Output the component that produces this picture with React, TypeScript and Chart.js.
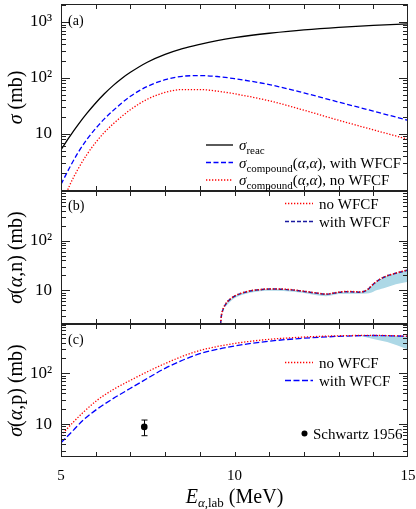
import React, { useEffect, useRef } from 'react';
import { Chart, registerables } from 'chart.js';
Chart.register(...registerables);

const W = 416;
const H = 509;
const LEFT = 61;
const RIGHT = 408;
const SERIF = '"Liberation Serif", "Times New Roman", serif';

// ---------- panel (a): reaction & compound elastic ----------
const energyReac = [5.0, 5.25, 5.5, 5.75, 6.0, 6.25, 6.5, 6.75, 7.0, 7.5, 8.0, 8.5, 9.0, 9.5, 10.0, 10.5, 11.0, 12.0, 13.0, 14.0, 15.0];
const sigmaReac = [5.2, 8.95, 14.8, 23.4, 35.6, 52, 72.8, 97.7, 126, 193, 264, 335, 400, 465, 525, 580, 630, 725, 805, 870, 925];
const energyComp = [5.0, 5.25, 5.5, 5.75, 6.0, 6.25, 6.5, 7.0, 7.5, 8.0, 8.5, 9.0, 9.5, 10.0, 11.0, 12.0, 13.0, 14.0, 15.0];
const compWithWfcf = [1.25, 2.5, 4.7, 8.0, 12.5, 18.5, 26, 47, 71, 93, 107, 110, 106, 97, 76, 54, 37, 25.5, 17.5];
const compNoWfcf = [0.5, 1.2, 2.4, 4.3, 7.0, 10.6, 15, 27, 42, 55, 62, 62, 58, 52, 39, 26.5, 17.5, 11.8, 8.0];

// ---------- panel (b): (alpha,n) ----------
const energyN = [9.6, 9.62, 9.66, 9.72, 9.8, 9.9, 10.0, 10.2, 10.45, 10.75, 11.0, 11.4, 11.7, 12.0, 12.35, 12.64, 12.8, 13.0, 13.3, 13.6, 13.75, 13.85, 13.95, 14.05, 14.3, 14.65, 15.0];
const sigmaNWith = [2.1, 3.0, 3.9, 4.9, 5.9, 6.8, 7.6, 8.7, 9.7, 10.3, 10.6, 10.5, 10.1, 9.5, 8.8, 8.3, 8.6, 9.1, 9.4, 9.2, 9.6, 10.5, 12.3, 14.2, 18.3, 22, 25.6];
const sigmaNNo = [2.1, 3.0, 4.0, 5.0, 6.0, 6.9, 7.7, 8.8, 9.8, 10.4, 10.7, 10.6, 10.2, 9.6, 8.9, 8.4, 8.7, 9.2, 9.5, 9.3, 9.7, 10.6, 12.4, 14.3, 18.4, 22.2, 25.8];
const bandEnergyN = [9.75, 10.0, 10.45, 11.0, 11.4, 12.0, 12.64, 13.0, 13.6, 13.8, 13.95, 14.05, 14.3, 14.65, 15.0];
const bandNLow = [4.8, 6.9, 8.9, 9.8, 9.7, 8.8, 7.6, 8.4, 8.5, 8.6, 9.0, 9.8, 11.0, 13.2, 14.9];
const bandNHigh = [5.4, 7.6, 9.7, 10.6, 10.5, 9.5, 8.3, 9.1, 9.2, 10.0, 12.3, 14.2, 18.3, 22, 25.6];

// ---------- panel (c): (alpha,p) ----------
const energyP = [5.0, 5.36, 5.64, 6.03, 6.51, 6.99, 7.5, 8.0, 8.5, 9.0, 9.5, 10.0, 10.5, 11.0, 11.5, 12.0, 12.5, 13.0, 13.5, 14.0, 14.5, 15.0];
const sigmaPWith = [4.3, 7.6, 12, 19.5, 32, 50, 80, 125, 180, 242, 295, 343, 388, 427, 460, 488, 512, 532, 546, 552, 545, 530];
const sigmaPNo = [6.0, 11, 17, 29, 48, 72, 108, 155, 215, 280, 335, 385, 428, 465, 492, 515, 532, 545, 553, 556, 549, 534];
const bandEnergyP = [13.4, 13.7, 14.0, 14.4, 14.7, 15.0];
const bandPLow = [548, 528, 470, 410, 350, 290];
const bandPHigh = [548, 551, 552, 547, 540, 530];
const schwartzE = [7.4];
const schwartzSigma = [8.8];
const schwartzLow = [5.9];
const schwartzHigh = [12.0];

// ---------- axes ----------
const xMin = 5;
const xMax = 15;
const xTickLabels = [5, 10, 15];
const xTickMarks = [6, 7, 8, 9, 10, 11, 12, 13, 14];
const yLabelValuesA = [10, 100, 1000];
const yLabelValuesBC = [10, 100];
const yMajorValues = [10, 100, 1000];
const yMajorLabels = ['10', '10\u00B2', '10\u00B3'];

type Part = { t: string; s: number; it?: boolean; dy?: number };
const rm = (t: string, s = 15, dy = 0): Part => ({ t, s, dy });
const itl = (t: string, s = 15, dy = 0): Part => ({ t, s, dy, it: true });
const fontOf = (p: Part) => `${p.it ? 'italic ' : ''}${p.s}px ${SERIF}`;

function drawParts(ctx: CanvasRenderingContext2D, parts: Part[], x: number, y: number, align: 'left' | 'center' | 'right') {
  let w = 0;
  for (const p of parts) {
    ctx.font = fontOf(p);
    w += ctx.measureText(p.t).width;
  }
  let cx = align === 'left' ? x : align === 'center' ? x - w / 2 : x - w;
  ctx.textAlign = 'left';
  ctx.textBaseline = 'alphabetic';
  for (const p of parts) {
    ctx.font = fontOf(p);
    ctx.fillText(p.t, cx, y + (p.dy || 0));
    cx += ctx.measureText(p.t).width;
  }
}

interface LegendItem { y: number; color: string; dash: number[]; width: number; parts: Part[] }
interface PanelSpec {
  top: number; bottom: number; yMin: number; yMax: number; showX: boolean; yLabels: number[];
  label: string; labelY: number; yTitle: Part[];
  legendX0: number; legendX1: number; legendTextX: number; legend: LegendItem[];
  datasets: any[];
  errorBars?: { e: number[]; lo: number[]; hi: number[] };
}

const pts = (xs: number[], ys: number[]) => xs.map((x, i) => ({ x, y: ys[i] }));

const lineDs = (xs: number[], ys: number[], color: string, dash: number[], width: number, order: number) => ({
  data: pts(xs, ys), borderColor: color, borderDash: dash, borderWidth: width, pointRadius: 0,
  fill: false, cubicInterpolationMode: 'monotone', order, borderCapStyle: 'butt',
});

const bandDs = (xs: number[], lo: number[], hi: number[]) => [
  { data: pts(xs, lo), borderWidth: 0, borderColor: 'rgba(0,0,0,0)', pointRadius: 0, fill: false, cubicInterpolationMode: 'monotone', order: 10 },
  { data: pts(xs, hi), borderWidth: 0, borderColor: 'rgba(0,0,0,0)', backgroundColor: '#add8e6', pointRadius: 0, fill: '-1', cubicInterpolationMode: 'monotone', order: 9 },
];

const RED = '#ff0000';
const BLUE = '#0000ff';
const NAVY = '#1a1aa0';
const DOT = [1.3, 1.7];

const panels: PanelSpec[] = [
  {
    top: 4, bottom: 191, yMin: 0.95, yMax: 2100, showX: false, yLabels: yLabelValuesA,
    label: '(a)', labelY: 20,
    yTitle: [itl('\u03C3', 20), rm(' (mb)', 20)],
    legendX0: 206, legendX1: 233, legendTextX: 239,
    legend: [
      { y: 145, color: '#000', dash: [], width: 1.3, parts: [itl('\u03C3'), rm('reac', 11, 4)] },
      { y: 162.5, color: BLUE, dash: [5, 2.5], width: 1.3, parts: [itl('\u03C3'), rm('compound', 11, 4), rm('('), itl('\u03B1'), rm(','), itl('\u03B1'), rm('), with WFCF')] },
      { y: 180, color: RED, dash: DOT, width: 1.3, parts: [itl('\u03C3'), rm('compound', 11, 4), rm('('), itl('\u03B1'), rm(','), itl('\u03B1'), rm('), no WFCF')] },
    ],
    datasets: [
      lineDs(energyComp, compNoWfcf, RED, DOT, 1.3, 3),
      lineDs(energyComp, compWithWfcf, BLUE, [5, 2.5], 1.3, 2),
      lineDs(energyReac, sigmaReac, '#000', [], 1.3, 1),
    ],
  },
  {
    top: 191, bottom: 324, yMin: 2.1, yMax: 1000, showX: false, yLabels: yLabelValuesBC,
    label: '(b)', labelY: 205,
    yTitle: [itl('\u03C3', 20), rm('(', 20), itl('\u03B1', 20), rm(',n) (mb)', 20)],
    legendX0: 285, legendX1: 313, legendTextX: 319,
    legend: [
      { y: 203.5, color: RED, dash: DOT, width: 1.3, parts: [rm('no WFCF')] },
      { y: 221.5, color: NAVY, dash: [4, 2], width: 1.3, parts: [rm('with WFCF')] },
    ],
    datasets: [
      ...bandDs(bandEnergyN, bandNLow, bandNHigh),
      lineDs(energyN, sigmaNWith, NAVY, [4, 2], 1.5, 2),
      lineDs(energyN, sigmaNNo, RED, DOT, 1.5, 1),
    ],
  },
  {
    top: 324, bottom: 457, yMin: 2.25, yMax: 930, showX: true, yLabels: yLabelValuesBC,
    label: '(c)', labelY: 339,
    yTitle: [itl('\u03C3', 20), rm('(', 20), itl('\u03B1', 20), rm(',p) (mb)', 20)],
    legendX0: 285, legendX1: 313, legendTextX: 319,
    legend: [
      { y: 362.5, color: RED, dash: DOT, width: 1.3, parts: [rm('no WFCF')] },
      { y: 380.5, color: BLUE, dash: [6, 2.5], width: 1.3, parts: [rm('with WFCF')] },
    ],
    datasets: [
      ...bandDs(bandEnergyP, bandPLow, bandPHigh),
      lineDs(energyP, sigmaPWith, BLUE, [6, 2.5], 1.3, 2),
      lineDs(energyP, sigmaPNo, RED, DOT, 1.3, 1),
      { data: pts(schwartzE, schwartzSigma), showLine: false, pointRadius: 3.3, pointBackgroundColor: '#000', pointBorderColor: '#000', pointBorderWidth: 0, order: 0 },
    ],
    errorBars: { e: schwartzE, lo: schwartzLow, hi: schwartzHigh },
  },
];

function decorPlugin(spec: PanelSpec) {
  return {
    id: 'decor',
    afterDraw(chart: any) {
      const ctx: CanvasRenderingContext2D = chart.ctx;
      const a = chart.chartArea;
      const xs = chart.scales.x;
      const ys = chart.scales.y;
      ctx.save();
      ctx.setLineDash([]);
      ctx.strokeStyle = '#000';
      ctx.fillStyle = '#000';
      if (spec.errorBars) {
        const eb = spec.errorBars;
        ctx.lineWidth = 1;
        eb.e.forEach((e, i) => {
          const px = Math.round(xs.getPixelForValue(e)) + 0.5;
          const y0 = ys.getPixelForValue(eb.lo[i]);
          const y1 = ys.getPixelForValue(eb.hi[i]);
          ctx.beginPath();
          ctx.moveTo(px, y0); ctx.lineTo(px, y1);
          ctx.moveTo(px - 3, y0); ctx.lineTo(px + 3, y0);
          ctx.moveTo(px - 3, y1); ctx.lineTo(px + 3, y1);
          ctx.stroke();
        });
      }
      // frame
      ctx.strokeStyle = '#222';
      ctx.lineWidth = 1;
      ctx.strokeRect(Math.round(a.left) + 0.5, Math.round(a.top) + 0.5, Math.round(a.right - a.left) - 1, Math.round(a.bottom - a.top) - 1);
      // x tick marks (inward, top and bottom)
      ctx.beginPath();
      for (const e of xTickMarks) {
        const px = Math.round(xs.getPixelForValue(e)) + 0.5;
        ctx.moveTo(px, a.top); ctx.lineTo(px, a.top + 5);
        ctx.moveTo(px, a.bottom); ctx.lineTo(px, a.bottom - 5);
      }
      // y tick marks (log, inward, left and right)
      const n0 = Math.floor(Math.log10(spec.yMin));
      const n1 = Math.ceil(Math.log10(spec.yMax));
      for (let n = n0; n <= n1; n++) {
        for (let m = 1; m <= 9; m++) {
          const v = m * Math.pow(10, n);
          if (v < spec.yMin || v > spec.yMax) continue;
          const py = Math.round(ys.getPixelForValue(v)) + 0.5;
          const len = m === 1 ? 9 : 5;
          ctx.moveTo(a.left, py); ctx.lineTo(a.left + len, py);
          ctx.moveTo(a.right, py); ctx.lineTo(a.right - len, py);
        }
      }
      ctx.stroke();
      // panel label
      drawParts(ctx, [rm(spec.label, 14)], 68, spec.labelY + 5, 'left');
      // y title
      ctx.save();
      ctx.translate(22, (a.top + a.bottom) / 2);
      ctx.rotate(-Math.PI / 2);
      drawParts(ctx, spec.yTitle, 0, 0, 'center');
      ctx.restore();
      // legend
      for (const item of spec.legend) {
        ctx.strokeStyle = item.color;
        ctx.lineWidth = item.width;
        ctx.setLineDash(item.dash);
        ctx.beginPath();
        ctx.moveTo(spec.legendX0, item.y);
        ctx.lineTo(spec.legendX1, item.y);
        ctx.stroke();
        ctx.setLineDash([]);
        ctx.fillStyle = '#000';
        drawParts(ctx, item.parts, spec.legendTextX, item.y + 5, 'left');
      }
      if (spec.errorBars) {
        ctx.beginPath();
        ctx.arc(304.5, 433.5, 3, 0, Math.PI * 2);
        ctx.fill();
        drawParts(ctx, [rm('Schwartz 1956')], 313, 438.5, 'left');
      }
      if (spec.showX) {
        drawParts(ctx, [itl('E', 20), itl('\u03B1', 13, 4), rm(',lab', 13, 4), rm(' (MeV)', 20)], (a.left + a.right) / 2, 503, 'center');
      }
      ctx.restore();
    },
  };
}

function makeConfig(spec: PanelSpec): any {
  return {
    type: 'line',
    data: { datasets: spec.datasets },
    options: {
      responsive: false,
      animation: false,
      devicePixelRatio: 1,
      layout: { padding: { top: spec.top, bottom: spec.showX ? 0 : H - spec.bottom, left: 0, right: W - RIGHT } },
      plugins: { legend: { display: false }, tooltip: { enabled: false } },
      elements: { point: { radius: 0 } },
      scales: {
        x: {
          type: 'linear', min: xMin, max: xMax, display: spec.showX,
          grid: { display: false, drawTicks: false }, border: { display: false },
          afterBuildTicks: (s: any) => { s.ticks = xTickLabels.map((v) => ({ value: v })); },
          ticks: { autoSkip: false, maxRotation: 0, color: '#000', padding: 10, font: { family: SERIF, size: 15 } },
          afterFit: (s: any) => {
            s.height = spec.showX ? H - spec.bottom : 0;
            s.paddingLeft = 0; s.paddingRight = 0;
          },
        },
        y: {
          type: 'logarithmic', min: spec.yMin, max: spec.yMax, bounds: 'data',
          grid: { display: false, drawTicks: false }, border: { display: false },
          ticks: {
            autoSkip: false, color: '#000', padding: 9, font: { family: SERIF, size: 17 },
            callback: (v: any) => {
              const val = Number(v);
              if (!spec.yLabels.some((m) => Math.abs(m - val) < 1e-6 * m)) return '';
              const i = yMajorValues.findIndex((m) => Math.abs(m - val) < 1e-6 * m);
              return i >= 0 ? yMajorLabels[i] : '';
            },
          },
          afterFit: (s: any) => { s.width = LEFT; s.paddingTop = 0; s.paddingBottom = 0; },
        },
      },
    },
    plugins: [decorPlugin(spec)],
  };
}

export default function App() {
  const refA = useRef<HTMLCanvasElement>(null);
  const refB = useRef<HTMLCanvasElement>(null);
  const refC = useRef<HTMLCanvasElement>(null);
  useEffect(() => {
    const refs = [refA, refB, refC];
    const charts = panels.map((p, i) => new Chart(refs[i].current as HTMLCanvasElement, makeConfig(p)));
    return () => charts.forEach((c) => c.destroy());
  }, []);
  const cs: React.CSSProperties = { position: 'absolute', left: 0, top: 0, width: W, height: H };
  return (
    <div style={{ position: 'absolute', left: 0, top: 0, width: W, height: H, background: '#fff' }}>
      <canvas ref={refA} width={W} height={H} style={cs} />
      <canvas ref={refB} width={W} height={H} style={cs} />
      <canvas ref={refC} width={W} height={H} style={cs} />
    </div>
  );
}
